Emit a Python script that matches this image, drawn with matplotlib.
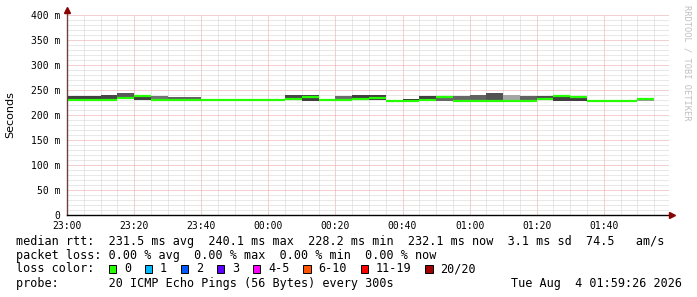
import matplotlib
matplotlib.use("Agg")
import matplotlib.pyplot as plt
import matplotlib.dates as mdates
from matplotlib.patches import Rectangle
from matplotlib.ticker import MultipleLocator, FuncFormatter
import pandas as pd
import numpy as np

plt.rcParams["lines.scale_dashes"] = False

# 5-minute slots, values in ms
slot_start = pd.date_range("2026-08-03 23:00", periods=35, freq="5min")
median_ms = [230.5, 230.5, 230.5, 234.5, 239.0, 230.5, 230.5, 230.5,
             230.5, 230.5, 230.5, 230.5, 230.5, 232.5, 237.0, 230.5,
             230.5, 232.0, 233.5, 228.5, 229.0, 231.0, 235.5, 228.5,
             229.0, 229.0, 229.0, 229.0, 231.5, 238.5, 236.5, 228.5,
             228.5, 228.5, 232.0]
smoke_lo = [232, 232, 232, 232, 230, 232, 232, 232,
            230.5, 230.5, 230.5, 230.5, 230.5, 231, 229, 230.5,
            232, 231, 230, 228, 228, 231, 228, 228,
            229, 228, 229, 229, 231, 229, 229, 228.5,
            228.5, 228.5, 229]
smoke_hi = [238, 238, 240, 244, 241, 238, 237, 237,
            230.5, 230.5, 230.5, 230.5, 230.5, 240, 240, 230.5,
            238, 241, 240, 230, 232, 238, 238, 238,
            241, 244, 241, 238, 238, 241, 238, 228.5,
            228.5, 228.5, 234]
# how dense the smoke looks (1 = dark)
smoke_density = [0.75, 0.75, 0.72, 0.65, 0.75, 0.55, 0.62, 0.62,
                 0, 0, 0, 0, 0, 0.72, 0.75, 0,
                 0.58, 0.75, 0.75, 0, 0.8, 0.75, 0.6, 0.6,
                 0.62, 0.68, 0.35, 0.62, 0.7, 0.75, 0.75, 0,
                 0, 0, 0.4]

loss_labels = ["0", "1", "2", "3", "4-5", "6-10", "11-19", "20/20"]
loss_colors = ["#26ff00", "#00b8ff", "#0059ff", "#5e00ff", "#ff00ff",
               "#ff5500", "#ff0000", "#a10000"]

stats_line = "median rtt:  231.5 ms avg  240.1 ms max  228.2 ms min  232.1 ms now  3.1 ms sd  74.5   am/s"
loss_line = "packet loss: 0.00 % avg  0.00 % max  0.00 % min  0.00 % now"
probe_line = "probe:       20 ICMP Echo Pings (56 Bytes) every 300s"
date_text = "Tue Aug  4 01:59:26 2026"

W, H = 697, 297
fig = plt.figure(figsize=(W / 100, H / 100), dpi=100)
fig.patch.set_facecolor("white")
ax = fig.add_axes([67 / W, 1 - 215 / H, 602 / W, 200 / H])
ax.set_facecolor("white")

t0 = slot_start[0]
t_end = pd.Timestamp("2026-08-04 01:59:26")
step = 5 / 1440.0
xs = mdates.date2num(slot_start.to_pydatetime())

# smoke
for x, lo, hi, d in zip(xs, smoke_lo, smoke_hi, smoke_density):
    if hi > lo:
        g = 1 - d
        ax.bar(x, hi - lo, bottom=lo, width=step, align="edge",
               color=(g, g, g), linewidth=0, zorder=2)

# median, coloured by loss (all 0 here)
ax.hlines(median_ms, xs, xs + step, color=loss_colors[0], lw=1.6, zorder=3)

ax.set_xlim(mdates.date2num(t0), mdates.date2num(t_end))
ax.set_ylim(0, 400)

ax.xaxis.set_major_locator(mdates.MinuteLocator(byminute=[0, 20, 40]))
ax.xaxis.set_minor_locator(mdates.MinuteLocator(byminute=range(0, 60, 5)))
ax.xaxis.set_major_formatter(mdates.DateFormatter("%H:%M"))
ax.yaxis.set_major_locator(MultipleLocator(50))
ax.yaxis.set_minor_locator(MultipleLocator(10))
ax.yaxis.set_major_formatter(FuncFormatter(lambda v, p: "0" if v == 0 else "%d m" % v))

dot = (0, (0.72, 0.72))
ax.grid(which="minor", color="#d2d2d2", linestyle=dot, lw=0.72, zorder=0)
ax.grid(which="major", color="#e8a0a0", linestyle=dot, lw=0.72, zorder=1)
ax.set_axisbelow(True)

for s in ax.spines.values():
    s.set_visible(False)
ax.tick_params(which="both", length=0)
ax.tick_params(axis="x", pad=4.5, labelsize=7, labelfontfamily="DejaVu Sans Mono")
ax.tick_params(axis="y", pad=5, labelsize=7, labelfontfamily="DejaVu Sans Mono")

# axes with arrows
ax.plot([0, 0], [0, 1.025], transform=ax.transAxes, color="#6e4040", lw=1, clip_on=False, zorder=5)
ax.plot([0, 1.005], [0, 0], transform=ax.transAxes, color="black", lw=1, clip_on=False, zorder=5)
ax.plot(0, 1.025, marker="^", ms=4, color="#8b0000", transform=ax.transAxes, clip_on=False, zorder=6)
ax.plot(1.005, 0, marker=">", ms=4, color="#8b0000", transform=ax.transAxes, clip_on=False, zorder=6)

ax.set_ylabel("Seconds", fontsize=8, family="DejaVu Sans")
ax.yaxis.set_label_coords((15 - 67) / 602, 0.5)

fig.text(687 / W, 1 - 5 / H, "RRDTOOL / TOBI OETIKER", rotation=270, ha="center", va="top",
         fontsize=6.2, color="#c0c0c0", family="DejaVu Sans Mono")

# legend block
mono = dict(family="DejaVu Sans Mono", fontsize=8.5, va="center", color="black")
cw = 7.1
fig.text(16 / W, 1 - 241 / H, stats_line, **mono)
fig.text(16 / W, 1 - 256 / H, loss_line, **mono)
fig.text(16 / W, 1 - 269 / H, "loss color:", **mono)
fig.text(16 / W, 1 - 284 / H, probe_line, **mono)
fig.text(682 / W, 1 - 284 / H, date_text, ha="right", **mono)

x = 108.5
for lab, col in zip(loss_labels, loss_colors):
    fig.patches.append(Rectangle((x / W, 1 - 272.5 / H), 7.5 / W, 7.5 / H,
                                 transform=fig.transFigure, facecolor=col,
                                 edgecolor="black", lw=0.7))
    lx = x + 15.5
    fig.text(lx / W, 1 - 269 / H, lab, **mono)
    x = lx + len(lab) * cw + 13.5

fig.savefig("out.png", dpi=100)
